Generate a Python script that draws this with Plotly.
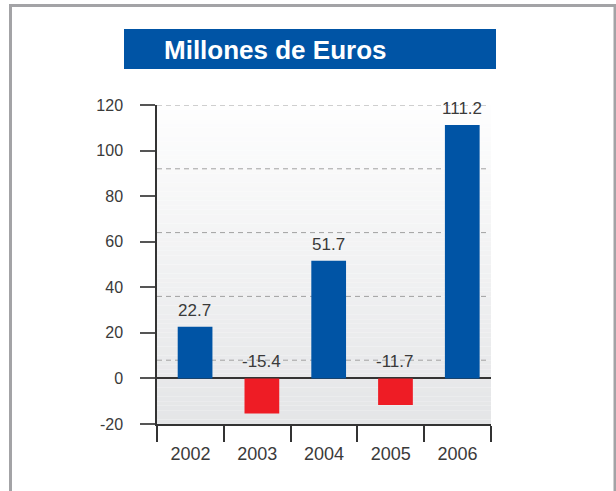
import plotly.graph_objects as go

# Data
years = ["2002", "2003", "2004", "2005", "2006"]
values = [22.7, -15.4, 51.7, -11.7, 111.2]
y_ticks = [-20, 0, 20, 40, 60, 80, 100, 120]
guide_levels = [120, 92, 64, 36, 8]
title_text = "Millones de Euros"

BLUE = "#0054a5"
RED = "#ee1c25"
TEXT = "#3a3a3a"
AXIS = "#333333"

# Canvas geometry (pixels)
FIG_W, FIG_H = 616, 491
L, R, T, B = 157, 491, 105, 424
PW, PH = R - L, B - T


def px_x(x):
    return (x - L) / PW


def px_y(y):
    return (B - y) / PH


colors = [BLUE if v >= 0 else RED for v in values]

fig = go.Figure()
fig.add_trace(go.Bar(
    x=years, y=values,
    marker=dict(color=colors, line=dict(width=0)),
    width=0.52, offset=-0.19,
    hoverinfo="x+y",
))

shapes = []

# Vertical gradient behind the plot area
n_bands = 70
y0, y1 = -20, 120
c_bot = (228, 229, 231)
c_top = (254, 254, 254)
for i in range(n_bands):
    t = (i + 0.5) / n_bands
    c = tuple(round(c_bot[k] + (c_top[k] - c_bot[k]) * t) for k in range(3))
    ya = y0 + (y1 - y0) * i / n_bands
    yb = y0 + (y1 - y0) * (i + 1) / n_bands
    shapes.append(dict(type="rect", xref="paper", yref="y", x0=0, x1=1,
                       y0=ya, y1=yb, fillcolor="rgb(%d,%d,%d)" % c,
                       line=dict(width=0), layer="below"))

# Dashed guide lines
for g in guide_levels:
    shapes.append(dict(type="line", xref="paper", yref="y", x0=0, x1=px_x(488),
                       y0=g, y1=g, line=dict(color="#a0a0a0", width=1, dash="5px,4px"),
                       layer="below"))

# Outer frame
shapes.append(dict(type="rect", xref="paper", yref="paper",
                   x0=px_x(10.5), x1=px_x(615), y0=px_y(5.5), y1=px_y(510),
                   line=dict(color="#a3a3a6", width=3), fillcolor="rgba(0,0,0,0)",
                   layer="below"))

# Title box
shapes.append(dict(type="rect", xref="paper", yref="paper",
                   x0=px_x(124), x1=px_x(496), y0=px_y(69), y1=px_y(29),
                   line=dict(width=0), fillcolor=BLUE, layer="above"))

annotations = [dict(
    text="<b>%s</b>" % title_text, xref="paper", yref="paper",
    x=px_x(162), y=px_y(50), xanchor="left", yanchor="middle", showarrow=False,
    font=dict(family="Liberation Sans, Arial, sans-serif", size=26, color="white"),
)]

# Value labels above each bar (or above the zero line for negatives);
# category axes take the category index as the annotation position
for i, v in enumerate(values):
    annotations.append(dict(
        text="%.1f" % v, x=i, y=max(v, 0), xref="x", yref="y",
        xanchor="center", yanchor="bottom", showarrow=False, xshift=4.5, yshift=5,
        font=dict(family="Liberation Sans, Arial, sans-serif", size=17, color=TEXT),
    ))

fig.update_layout(
    width=FIG_W, height=FIG_H,
    margin=dict(l=L, r=FIG_W - R, t=T, b=FIG_H - B, pad=0),
    paper_bgcolor="white", plot_bgcolor="rgba(0,0,0,0)",
    showlegend=False,
    shapes=shapes, annotations=annotations,
    font=dict(family="Liberation Sans, Arial, sans-serif", color=TEXT),
)

fig.update_xaxes(
    type="category", tickson="boundaries", ticks="outside", ticklen=16,
    tickwidth=1.5, tickcolor=AXIS, showline=True, linecolor=AXIS, linewidth=1.5,
    showgrid=False, tickfont=dict(size=18, color=TEXT), ticklabelstandoff=13,
    range=[-0.5, 4.5], fixedrange=True,
)
fig.update_yaxes(
    range=[-20, 120], tickvals=y_ticks, ticktext=[str(t) for t in y_ticks],
    ticks="outside", ticklen=15, tickwidth=1.5, tickcolor="#555555",
    showline=True, linecolor=AXIS, linewidth=1.5, showgrid=False,
    zeroline=True, zerolinecolor=AXIS, zerolinewidth=1.5,
    tickfont=dict(size=16, color=TEXT), ticklabelstandoff=14, fixedrange=True,
)

fig.write_html("out.html", config={"displayModeBar": False})
